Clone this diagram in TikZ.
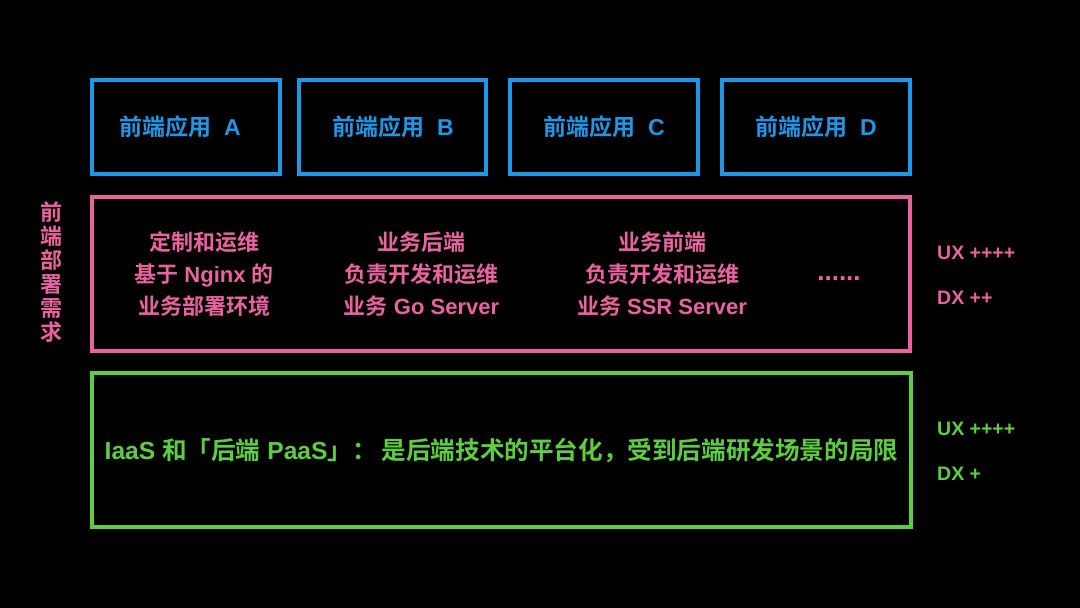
\documentclass[tikz,border=0pt]{standalone}
\usepackage{fontspec}
\setmainfont{Liberation Sans Bold}
\newfontfamily\cjkfont{Noto Sans CJK SC Bold}
\newcommand{\zh}[1]{{\cjkfont #1}}
\definecolor{appblue}{HTML}{1D97E6}
\definecolor{deppink}{HTML}{E8639F}
\definecolor{iaasgreen}{HTML}{5DCE3F}
\tikzset{
  apptext/.style={text=appblue, font=\fontsize{23}{24}\selectfont},
  pinktext/.style={text=deppink, align=center, font=\fontsize{22}{32}\selectfont},
  sidelabel/.style={anchor=west, font=\fontsize{19.5}{22}\selectfont, inner sep=0pt},
}
\begin{document}
\begin{tikzpicture}[x=1pt,y=-1pt]
\fill[black] (0,0) rectangle (1080,608);
\useasboundingbox (0,0) rectangle (1080,608);

% top application boxes
\draw[appblue, line width=4pt] (92,79.5) rectangle (280,174);
\draw[appblue, line width=4pt] (299,79.5) rectangle (486,174);
\draw[appblue, line width=4pt] (510,79.5) rectangle (698,174);
\draw[appblue, line width=4pt] (722,79.5) rectangle (910,174);
\node[apptext] (appA) at (180,127) {\zh{前端应用}\hspace{0.55em}A};
\node[apptext] (appB) at (393,127) {\zh{前端应用}\hspace{0.55em}B};
\node[apptext] (appC) at (604,127) {\zh{前端应用}\hspace{0.55em}C};
\node[apptext] (appD) at (816,127) {\zh{前端应用}\hspace{0.55em}D};

% pink deployment box
\draw[deppink, line width=4pt] (92,197) rectangle (910,351);
\node[pinktext] (col1) at (204,274) {\zh{定制和运维}\\\zh{基于} Nginx \zh{的}\\\zh{业务部署环境}};
\node[pinktext] (col2) at (421.5,274) {\zh{业务后端}\\\zh{负责开发和运维}\\\zh{业务} Go Server};
\node[pinktext] (col3) at (662,274) {\zh{业务前端}\\\zh{负责开发和运维}\\\zh{业务} SSR Server};
\node[pinktext, font=\fontsize{26}{28}\selectfont] (more) at (839,279) {......};
\node[pinktext, font=\fontsize{22}{24}\selectfont] (vlabel) at (52,272.5)
  {\zh{前}\\\zh{端}\\\zh{部}\\\zh{署}\\\zh{需}\\\zh{求}};
\node[sidelabel, text=deppink] (ux1) at (937,253) {UX ++++};
\node[sidelabel, text=deppink] (dx1) at (937,298) {DX ++};

% green IaaS box
\draw[iaasgreen, line width=4pt] (92,373) rectangle (911,527);
\node[text=iaasgreen, font=\fontsize{24.6}{28}\selectfont] (iaas) at (501.5,451)
  {IaaS \zh{和「后端} PaaS\zh{」：}\hspace{0.2em}\zh{是后端技术的平台化，受到后端研发场景的局限}};
\node[sidelabel, text=iaasgreen] (ux2) at (937,429) {UX ++++};
\node[sidelabel, text=iaasgreen] (dx2) at (937,474) {DX +};
\end{tikzpicture}
\end{document}
